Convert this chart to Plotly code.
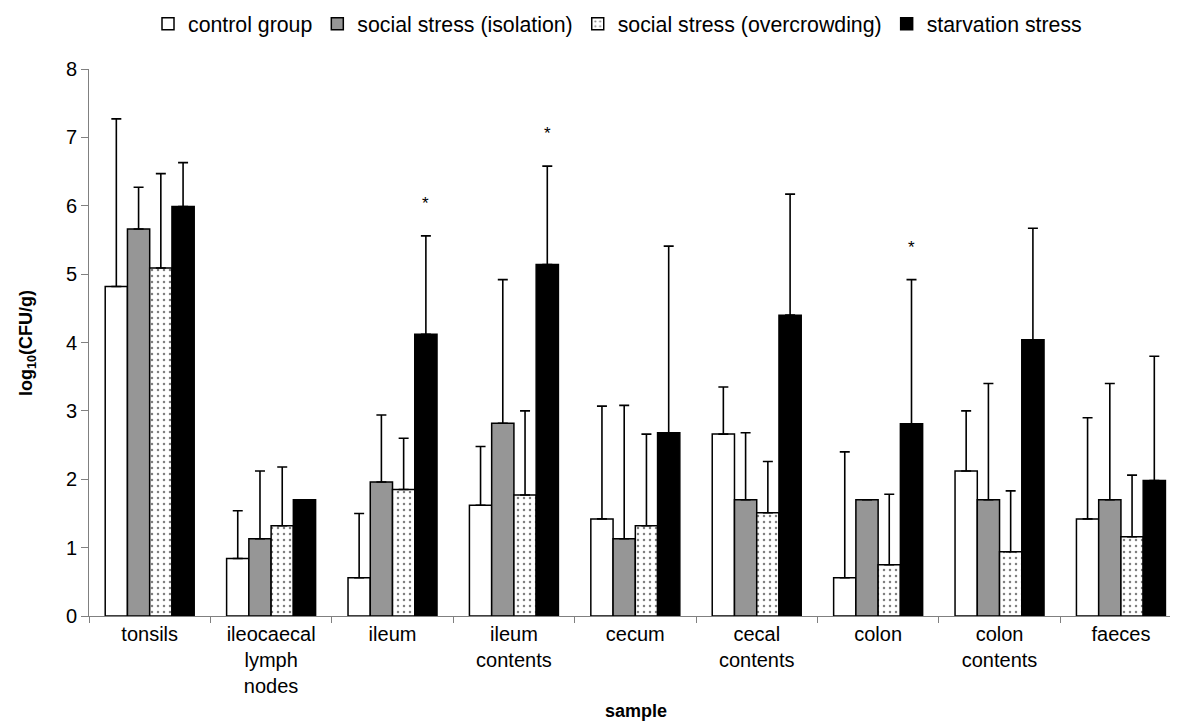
import plotly.graph_objects as go

samples = ["tonsils", "ileocaecal<br>lymph<br>nodes", "ileum", "ileum<br>contents", "cecum",
           "cecal<br>contents", "colon", "colon<br>contents", "faeces"]

control_mean = [4.82, 0.84, 0.56, 1.62, 1.42, 2.66, 0.56, 2.12, 1.42]
control_sd = [2.45, 0.70, 0.94, 0.86, 1.65, 0.69, 1.84, 0.88, 1.48]

isolation_mean = [5.66, 1.13, 1.96, 2.82, 1.13, 1.70, 1.70, 1.70, 1.70]
isolation_sd = [0.61, 0.99, 0.98, 2.10, 1.95, 0.98, None, 1.70, 1.70]

overcrowding_mean = [5.09, 1.32, 1.85, 1.77, 1.32, 1.51, 0.75, 0.94, 1.16]
overcrowding_sd = [1.38, 0.86, 0.75, 1.23, 1.34, 0.75, 1.03, 0.89, 0.90]

starvation_mean = [5.99, 1.70, 4.12, 5.14, 2.68, 4.40, 2.81, 4.04, 1.98]
starvation_sd = [0.64, None, 1.44, 1.44, 2.73, 1.77, 2.11, 1.63, 1.82]

starvation_significant = [False, False, True, True, False, False, True, False, False]

series_names = ["control group", "social stress (isolation)",
                "social stress (overcrowding)", "starvation stress"]

FONT = "Liberation Sans, Arial, sans-serif"
OFF = 8  # page body margin
W, H = 1178 - OFF, 723 - OFF
L, R, T, B = 89 - OFF, 0, 69 - OFF, 723 - 616
PW, PH = W - L - R, H - T - B


def px_x(px):
    # screen pixel -> paper fraction
    return (px - OFF - L) / PW


def px_y(py):
    return (H - B - (py - OFF)) / PH


fig = go.Figure()

styles = [
    dict(color="white"),
    dict(color="#969696"),
    dict(color="white", pattern=dict(shape=".", fgcolor="black", bgcolor="white",
                                     size=6, solidity=0.14)),
    dict(color="black"),
]
means = [control_mean, isolation_mean, overcrowding_mean, starvation_mean]
sds = [control_sd, isolation_sd, overcrowding_sd, starvation_sd]

for name, m, sd, st in zip(series_names, means, sds, styles):
    marker = dict(line=dict(color="black", width=1.5), **st)
    fig.add_trace(go.Bar(
        name=name, x=samples, y=m,
        marker=marker,
        error_y=dict(type="data", symmetric=False, array=sd,
                     arrayminus=[0] * len(sd), color="black",
                     thickness=1.6, width=5, visible=True),
    ))

n_series = len(series_names)
bargap = 0.267
bar_w = (1 - bargap) / n_series
offset_last = (n_series - 1 - (n_series - 1) / 2) * bar_w

annotations = []
for i, sig in enumerate(starvation_significant):
    if sig:
        top = starvation_mean[i] + (starvation_sd[i] or 0)
        annotations.append(dict(x=i + offset_last, y=top, xref="x", yref="y",
                                text="*", showarrow=False, yanchor="bottom",
                                yshift=21, font=dict(size=17, color="black", family=FONT)))

annotations.append(dict(text="<b>log<sub>10</sub>(CFU/g)</b>", textangle=-90,
                        xref="paper", yref="paper", x=px_x(27), y=px_y(343),
                        xanchor="center", yanchor="middle", showarrow=False,
                        font=dict(size=18, color="black", family=FONT)))
annotations.append(dict(text="<b>sample</b>",
                        xref="paper", yref="paper", x=px_x(636), y=px_y(711),
                        xanchor="center", yanchor="middle", showarrow=False,
                        font=dict(size=18, color="black", family=FONT)))

fig.update_layout(
    width=W, height=H,
    margin=dict(l=L, r=R, t=T, b=B),
    paper_bgcolor="white", plot_bgcolor="white",
    barmode="group", bargap=bargap, bargroupgap=0,
    font=dict(family=FONT, size=20, color="black"),
    showlegend=True,
    legend=dict(orientation="h", xref="container", yref="container",
                x=140 / W, y=1 - (24 - OFF) / H, xanchor="left", yanchor="middle",
                font=dict(size=21.3, color="black", family=FONT),
                itemwidth=30, traceorder="normal", bgcolor="rgba(0,0,0,0)"),
    annotations=annotations,
    xaxis=dict(type="category", range=[-0.5, 8.47], showgrid=False,
               showline=True, linecolor="#808080", linewidth=1,
               ticks="outside", tickson="boundaries", ticklen=6, tickcolor="#808080",
               tickfont=dict(size=20, color="black", family=FONT), tickangle=0,
               zeroline=False),
    yaxis=dict(range=[0, 8], dtick=1, showgrid=False, showline=True,
               linecolor="#808080", linewidth=1, ticks="outside", ticklen=7,
               tickcolor="#808080", tickfont=dict(size=20, color="black", family=FONT),
               zeroline=False),
)

fig.write_html("out.html")
